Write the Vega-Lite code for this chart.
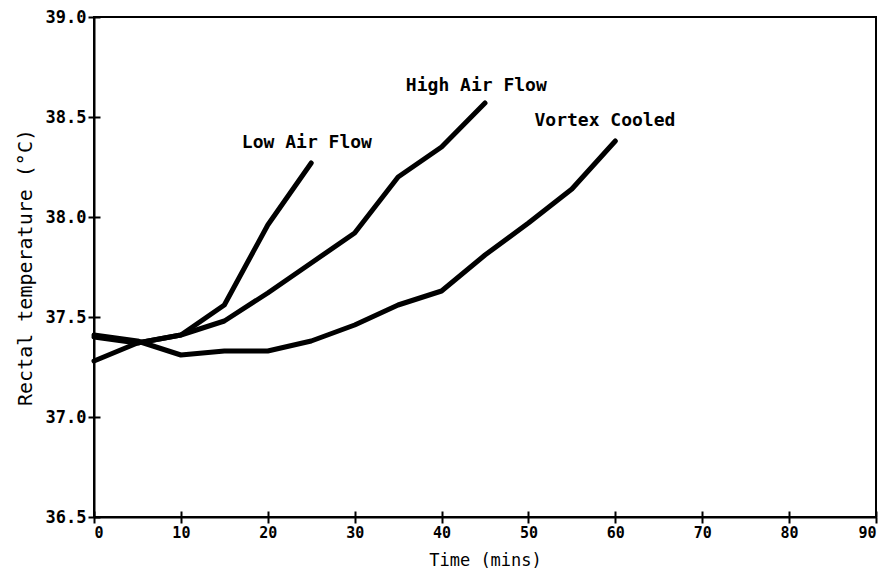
{
  "$schema": "https://vega.github.io/schema/vega-lite/v6.json",
  "width": 782,
  "height": 500,
  "autosize": {"type": "none"},
  "padding": {"left": 94, "top": 17, "right": 4, "bottom": 66},
  "background": "white",
  "config": {
    "view": {"stroke": "black", "strokeWidth": 2},
    "font": "DejaVu Sans Mono",
    "axis": {
      "domainColor": "black", "domainWidth": 2, "tickColor": "black", "tickWidth": 2,
      "labelColor": "black", "titleColor": "black", "labelFont": "DejaVu Sans Mono",
      "titleFont": "DejaVu Sans Mono", "labelFontWeight": "bold",
      "titleFontWeight": "normal", "grid": false
    }
  },
  "datasets": {
    "curves": [
      {"series": "Low Air Flow", "time": 0, "temp": 37.40},
      {"series": "Low Air Flow", "time": 5, "temp": 37.37},
      {"series": "Low Air Flow", "time": 10, "temp": 37.41},
      {"series": "Low Air Flow", "time": 15, "temp": 37.56},
      {"series": "Low Air Flow", "time": 20, "temp": 37.96},
      {"series": "Low Air Flow", "time": 25, "temp": 38.27},
      {"series": "High Air Flow", "time": 0, "temp": 37.28},
      {"series": "High Air Flow", "time": 5, "temp": 37.37},
      {"series": "High Air Flow", "time": 10, "temp": 37.41},
      {"series": "High Air Flow", "time": 15, "temp": 37.48},
      {"series": "High Air Flow", "time": 20, "temp": 37.62},
      {"series": "High Air Flow", "time": 25, "temp": 37.77},
      {"series": "High Air Flow", "time": 30, "temp": 37.92},
      {"series": "High Air Flow", "time": 35, "temp": 38.20},
      {"series": "High Air Flow", "time": 40, "temp": 38.35},
      {"series": "High Air Flow", "time": 45, "temp": 38.57},
      {"series": "Vortex Cooled", "time": 0, "temp": 37.41},
      {"series": "Vortex Cooled", "time": 5, "temp": 37.38},
      {"series": "Vortex Cooled", "time": 10, "temp": 37.31},
      {"series": "Vortex Cooled", "time": 15, "temp": 37.33},
      {"series": "Vortex Cooled", "time": 20, "temp": 37.33},
      {"series": "Vortex Cooled", "time": 25, "temp": 37.38},
      {"series": "Vortex Cooled", "time": 30, "temp": 37.46},
      {"series": "Vortex Cooled", "time": 35, "temp": 37.56},
      {"series": "Vortex Cooled", "time": 40, "temp": 37.63},
      {"series": "Vortex Cooled", "time": 45, "temp": 37.81},
      {"series": "Vortex Cooled", "time": 50, "temp": 37.97},
      {"series": "Vortex Cooled", "time": 55, "temp": 38.14},
      {"series": "Vortex Cooled", "time": 60, "temp": 38.38}
    ],
    "labels": [
      {"label": "Low Air Flow", "time": 24.5, "temp": 38.37},
      {"label": "High Air Flow", "time": 44, "temp": 38.655},
      {"label": "Vortex Cooled", "time": 58.8, "temp": 38.48}
    ]
  },
  "resolve": {"axis": {"x": "independent", "y": "independent"}},
  "layer": [
    {
      "data": {"name": "curves"},
      "mark": {"type": "line", "color": "black", "strokeWidth": 5, "strokeCap": "round", "strokeJoin": "round"},
      "encoding": {
        "x": {"field": "time", "type": "quantitative",
              "scale": {"domain": [0, 90], "nice": false},
              "axis": {"orient": "bottom", "title": "Time  (mins)", "values": [0,10,20,30,40,50,60,70,80,90], "tickSize": 6, "labelPadding": 2, "titlePadding": 12, "labelFontSize": 15, "titleFontSize": 17}},
        "y": {"field": "temp", "type": "quantitative",
              "scale": {"domain": [36.5, 39.0], "nice": false, "zero": false},
              "axis": {"orient": "left", "title": "Rectal temperature  (°C)", "values": [36.5,37.0,37.5,38.0,38.5,39.0], "format": ".1f", "tickSize": 6, "labelPadding": 2, "titlePadding": 10, "labelFontSize": 17, "titleFontSize": 20}},
        "detail": {"field": "series"}
      }
    },
    {
      "data": {"name": "labels"},
      "mark": {"type": "text", "color": "black", "fontSize": 18, "font": "DejaVu Sans Mono", "fontWeight": "bold"},
      "encoding": {
        "x": {"field": "time", "type": "quantitative", "scale": {"domain": [0, 90], "nice": false},
              "axis": {"orient": "bottom", "values": [0,10,20,30,40,50,60,70,80,90], "tickSize": -6, "labels": false, "domain": false, "title": null}},
        "y": {"field": "temp", "type": "quantitative", "scale": {"domain": [36.5, 39.0], "nice": false, "zero": false},
              "axis": {"orient": "left", "values": [36.5,37.0,37.5,38.0,38.5,39.0], "tickSize": -6, "labels": false, "domain": false, "title": null}},
        "text": {"field": "label"}
      }
    }
  ]
}
